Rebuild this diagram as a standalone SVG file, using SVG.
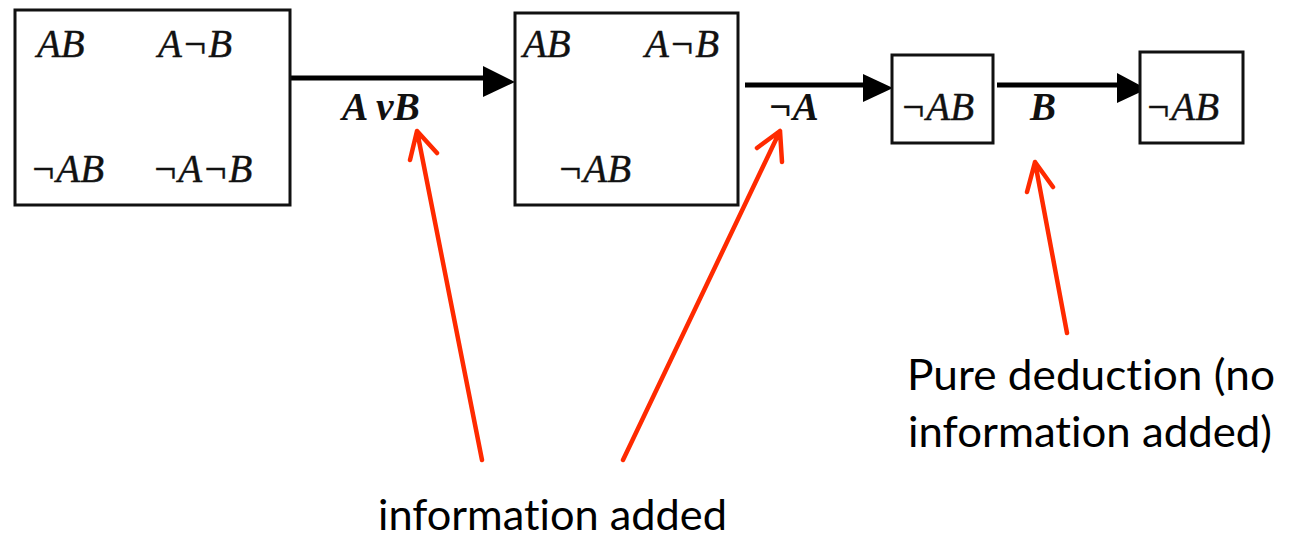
<svg xmlns="http://www.w3.org/2000/svg" width="1294" height="537" viewBox="0 0 1294 537">
<style>
.box{fill:#fff;stroke:#111;stroke-width:3}
.m{font-family:"Liberation Serif","Times New Roman",serif;font-style:italic;font-size:39px;fill:#111;stroke:#111;stroke-width:0.4}
.lb{font-family:"Liberation Serif","Times New Roman",serif;font-style:italic;font-weight:bold;font-size:39px;fill:#111}
.edge{stroke:#000;stroke-width:5;fill:none}
.red{stroke:#ff2a00;stroke-width:4.5;fill:none;stroke-linecap:round;stroke-linejoin:round}
.note{font-family:Lato,"Open Sans",sans-serif;font-size:43px;fill:#000;font-variant-ligatures:none;font-feature-settings:"liga" 0}
</style>
<g id="connectors">
<line class="edge" x1="290" y1="78" x2="486" y2="78"/>
<polygon points="483,66 515,82 483,97" fill="#000"/>
<line class="edge" x1="745" y1="85" x2="866" y2="85"/>
<polygon points="863,74 893,88 863,102" fill="#000"/>
<line class="edge" x1="997" y1="85" x2="1120" y2="85"/>
<polygon points="1117,73 1147,89 1117,103" fill="#000"/>
<text class="lb" x="342" y="120" textLength="78" lengthAdjust="spacingAndGlyphs">A vB</text>
<text class="lb" x="769" y="120">¬A</text>
<text class="lb" x="1030" y="120">B</text>
</g>
<g id="node1">
<rect class="box" x="15" y="10" width="275" height="195"/>
<text class="m" x="37" y="57">AB</text>
<text class="m" x="158" y="57">A¬B</text>
<text class="m" x="30" y="182">¬AB</text>
<text class="m" x="152" y="182">¬A¬B</text>
</g>
<g id="node2">
<rect class="box" x="515" y="13" width="223" height="192"/>
<text class="m" x="523" y="57">AB</text>
<text class="m" x="645" y="57">A¬B</text>
<text class="m" x="557" y="182">¬AB</text>
</g>
<g id="node3">
<rect class="box" x="892" y="55" width="101" height="88"/>
<text class="m" x="900" y="120">¬AB</text>
</g>
<g id="node4">
<rect class="box" x="1140" y="52" width="103" height="91"/>
<text class="m" x="1145" y="120">¬AB</text>
</g>
<g id="annotations">
<path class="red" d="M482,460 L417,131 M410,160 L417,131 L437,153"/>
<path class="red" d="M623,460 L780,131 M757,148 L780,131 L782,162"/>
<path class="red" d="M1067,333 L1035,162 M1027,192 L1035,162 L1053,187"/>
<text class="note" x="378" y="530" textLength="349" lengthAdjust="spacingAndGlyphs">information added</text>
<text class="note" x="907" y="390" textLength="368" lengthAdjust="spacingAndGlyphs">Pure deduction (no</text>
<text class="note" x="908" y="447" textLength="364" lengthAdjust="spacingAndGlyphs">information added)</text>
</g>
</svg>
